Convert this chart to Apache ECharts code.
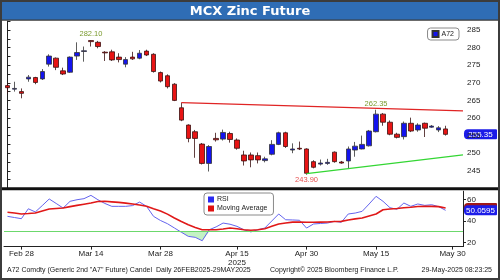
<!DOCTYPE html>
<html><head><meta charset="utf-8">
<script src="https://cdn.jsdelivr.net/npm/echarts@6/dist/echarts.min.js"></script>
<style>html,body{margin:0;padding:0;background:#fff}#c{width:500px;height:280px}</style>
</head><body><div id="c"></div>
<script>
// ---- data ----
const dates = ['2025-02-26','2025-02-27','2025-02-28',
'2025-03-03','2025-03-04','2025-03-05','2025-03-06','2025-03-07',
'2025-03-10','2025-03-11','2025-03-12','2025-03-13','2025-03-14',
'2025-03-17','2025-03-18','2025-03-19','2025-03-20','2025-03-21',
'2025-03-24','2025-03-25','2025-03-26','2025-03-27','2025-03-28',
'2025-04-01','2025-04-02','2025-04-03','2025-04-04',
'2025-04-07','2025-04-08','2025-04-09','2025-04-10','2025-04-11',
'2025-04-14','2025-04-15','2025-04-16','2025-04-17',
'2025-04-21','2025-04-22','2025-04-23','2025-04-24','2025-04-25',
'2025-04-28','2025-04-29','2025-04-30',
'2025-05-02',
'2025-05-05','2025-05-06','2025-05-07','2025-05-08','2025-05-09',
'2025-05-12','2025-05-13','2025-05-14','2025-05-15','2025-05-16',
'2025-05-19','2025-05-20','2025-05-21','2025-05-22','2025-05-23',
'2025-05-26','2025-05-27','2025-05-28','2025-05-29'];
const extraDates = ['2025-05-30','2025-06-02'];

const opens = [269.2,268.2,267.5,271.1,271.5,271.1,275.3,277.0,273.4,273.0,
277.6,278.9,282.0,281.5,278.7,278.8,277.3,275.3,277.3,277.0,
279.0,278.1,272.9,272.0,269.6,262.9,258.0,256.1,252.6,247.1,
254.2,254.0,255.6,253.75,249.5,249.5,249.3,247.9,249.7,252.5,
255.8,250.9,251.4,251.2,247.6,246.9,247.1,250.3,247.5,247.8,
250.9,251.2,252.1,256.1,261.1,258.8,255.4,254.7,258.5,256.6,
258.5,257.4,256.6,256.9];
const closes = [268.6,268.4,267.0,271.6,270.1,273.2,277.6,274.4,272.5,277.3,
278.6,279.1,281.7,280.3,278.5,276.5,276.6,276.6,276.8,278.4,
277.9,273.2,270.5,268.9,265.0,259.4,254.2,254.2,247.1,251.9,
253.8,255.9,253.9,251.4,247.8,248.1,248.1,248.4,252.5,255.8,
251.9,251.2,251.2,244.3,246.0,247.2,247.4,247.6,247.2,251.2,
252.0,252.5,256.3,261.1,258.8,255.4,254.5,258.5,256.3,258.0,
257.1,257.7,257.2,255.35];
const lows = [267.0,267.5,265.6,270.3,269.6,270.8,274.6,273.6,272.2,272.8,
276.5,276.0,280.3,279.8,276.2,276.2,275.8,274.4,276.5,276.7,
277.6,272.9,270.1,268.4,264.8,259.1,253.1,248.7,246.8,244.8,
253.3,253.6,253.0,251.0,246.5,246.0,247.1,247.4,249.4,252.3,
251.5,250.0,250.9,243.9,245.7,246.5,246.7,247.3,247.0,245.5,
249.0,251.1,251.9,255.9,257.8,255.1,254.2,253.9,256.0,256.1,
254.6,257.2,256.0,255.0];
const highs = [269.9,270.3,268.4,272.2,271.7,273.9,278.1,277.2,274.3,277.5,
281.5,280.3,282.1,281.9,279.0,279.4,278.4,277.3,278.8,279.3,
279.4,278.4,273.2,272.4,269.9,264.35,258.2,256.6,252.9,252.3,
255.8,256.7,256.1,254.2,250.7,250.2,250.2,249.0,253.7,256.1,
256.1,252.8,253.3,251.4,248.0,248.2,248.4,250.5,247.8,251.9,
253.2,255.0,256.6,262.35,261.4,259.3,255.8,259.0,260.1,258.5,
258.7,258.0,257.7,257.8];

const rsi = [44.4,43.3,42.2,51.5,48.5,54.5,60.7,56.5,52.2,58.5,
60.0,61.0,64.1,60.0,56.5,53.8,53.8,53.8,54.5,57.8,
53.8,44.4,40.5,37.5,33.5,29.5,25.6,24.7,21.5,31.8,
34.5,38.1,37.0,35.0,31.8,29.8,31.8,33.4,40.0,46.6,
41.2,41.0,40.7,33.4,37.2,37.7,38.1,39.7,38.8,46.6,
47.5,49.1,56.0,63.2,58.5,52.5,51.0,56.9,53.8,56.0,
54.7,55.3,53.5,50.0595];
const rsiMA = [48.2,47.5,46.6,47.0,47.5,49.5,51.3,51.8,52.2,53.5,
54.7,55.8,56.9,58.3,58.5,58.0,57.5,56.8,56.0,55.0,
53.8,51.5,49.5,46.5,42.8,39.5,36.5,34.0,31.8,31.8,
31.8,32.5,33.4,32.8,31.8,31.3,31.8,32.8,35.0,37.2,
38.2,39.0,39.1,38.8,38.8,39.0,39.1,39.5,39.7,41.0,
42.0,42.8,44.8,46.6,50.6,51.3,51.8,52.5,53.0,53.6,
53.8,53.8,53.5,52.2];
const oversold = 30;

// trend lines: [category position, price]
const resistanceLine = [[25, 264.35], [65.5, 262.0]];
const supportLine = [[43, 244.2], [65.5, 249.5]];

// annotated extremes: candle index and which extreme
const annotations = [{i:12, kind:'high'}, {i:43, kind:'low'}, {i:53, kind:'high'}];

const xTickDates = ['2025-02-28','2025-03-14','2025-03-28','2025-04-15','2025-04-30','2025-05-15','2025-05-30'];
const xTickLabels = ['Feb 28','Mar 14','Mar 28','Apr 15\n2025','Apr 30','May 15','May 30'];
const priceTicks = [245,250,255,260,265,270,275,280,285];
const rsiTicks = [20,40,60];

// ---- chart ----
const chart = echarts.init(document.getElementById('c'), null, {renderer:'canvas'});
const cats = dates.concat(extraDates);
const ohlc = dates.map((d,i)=>[opens[i], closes[i], lows[i], highs[i]]);
const isTick = (idx, val) => xTickDates.indexOf(val) >= 0;
const FONT = 'Liberation Sans';
const L = 4, R = 37;

const markData = annotations.map(a => {
  const v = a.kind === 'high' ? highs[a.i] : lows[a.i];
  return {
    coord: [cats[a.i], v], value: v.toFixed(2),
    label: {position: a.kind === 'high' ? 'top' : 'bottom', distance: a.kind==='high'?2:1.5,
            color: a.kind === 'high' ? '#7a9a2e' : '#e65050'}
  };
});

const baseGraphics = [
  {id:'titlebg', type:'rect', shape:{x:0,y:0,width:500,height:20}, style:{fill:'#2f6db5'}, z:-1},
  {id:'titleline', type:'rect', shape:{x:0,y:19.5,width:500,height:1.2}, style:{fill:'#3a3a3a'}},
  {id:'title', type:'text', style:{text:'MCX Zinc Future', x:250, y:11.5, align:'center', verticalAlign:'middle',
     font:'bold 13px "DejaVu Sans"', fill:'#ffffff'}},
  {id:'sep', type:'rect', shape:{x:0,y:187.3,width:500,height:3}, style:{fill:'#111'}, z:10},
  {id:'foot1', type:'text', style:{text:'A72 Comdty (Generic 2nd "A7" Future) Candel  Daily 26FEB2025-29MAY2025', x:7, y:270.5,
     verticalAlign:'middle', font:'7px "'+FONT+'"', fill:'#222'}},
  {id:'foot2', type:'text', style:{text:'Copyright\u00A9 2025 Bloomberg Finance L.P.', x:270, y:270.5,
     verticalAlign:'middle', font:'7px "'+FONT+'"', fill:'#222'}},
  {id:'foot3', type:'text', style:{text:'29-May-2025 08:23:25', x:492, y:270.5, align:'right',
     verticalAlign:'middle', font:'7px "'+FONT+'"', fill:'#222'}},
  {id:'border', type:'rect', shape:{x:1,y:1,width:498,height:278}, style:{fill:null, stroke:'#3c3c3c', lineWidth:2}, z:20}
];

const option = {
  animation: false,
  backgroundColor: '#fff',
  textStyle: {fontFamily: FONT},
  grid: [
    {left:L, right:R, top:21.2, height:167.2},
    {left:L, right:R, top:191.2, height:55.4}
  ],
  legend: [
    {data:['A72'], right:41, top:28, orient:'vertical', icon:'rect', itemWidth:6, itemHeight:6,
     backgroundColor:'#fff', borderColor:'#8a8a8a', borderWidth:1, borderRadius:3, padding:[2,5,2,4],
     textStyle:{fontSize:7, color:'#222', padding:[0,0,0,-2]}},
    {data:['RSI','Moving Average'], left:204, top:193, orient:'vertical', icon:'rect', itemWidth:6, itemHeight:6, itemGap:2,
     backgroundColor:'#fff', borderColor:'#8a8a8a', borderWidth:1, borderRadius:3, padding:[3,6,3,4],
     textStyle:{fontSize:7, color:'#222', padding:[0,0,0,-2]}}
  ],
  xAxis: [
    {type:'category', gridIndex:0, data:cats, boundaryGap:true, axisLine:{show:false}, axisTick:{show:false}, axisLabel:{show:false}, splitLine:{show:false}},
    {type:'category', gridIndex:1, data:cats, boundaryGap:true,
     axisLine:{show:true, lineStyle:{color:'#222', width:1}},
     axisTick:{show:true, interval:isTick, length:3, alignWithLabel:true, lineStyle:{color:'#222'}},
     axisLabel:{show:true, interval:isTick, formatter:(v)=>xTickLabels[xTickDates.indexOf(v)] || '',
       fontSize:8, lineHeight:8.5, margin:3, color:'#222', fontFamily:FONT},
     splitLine:{show:false}},
    {type:'value', gridIndex:0, min:-0.5, max:cats.length-0.5, show:false}
  ],
  yAxis: [
    {type:'value', gridIndex:0, position:'right', min:240, max:287.5, scale:true,
     axisLine:{show:true, lineStyle:{color:'#222'}},
     axisTick:{show:true, length:3, customValues: priceTicks.flatMap(v=>[v-2.5, v]).concat([287.5]), lineStyle:{color:'#222'}},
     axisLabel:{show:true, customValues: priceTicks, fontSize:8, margin:4, color:'#222', fontFamily:FONT},
     splitLine:{show:false}},
    {type:'value', gridIndex:1, position:'right', min:16, max:68,
     axisLine:{show:true, lineStyle:{color:'#222'}},
     axisTick:{show:true, length:3, customValues: rsiTicks, lineStyle:{color:'#222'}},
     axisLabel:{show:true, customValues: rsiTicks, fontSize:8, margin:4, color:'#222', fontFamily:FONT},
     splitLine:{show:false}}
  ],
  series: [
    {name:'A72', type:'candlestick', xAxisIndex:0, yAxisIndex:0, data:ohlc, barWidth:5,
     itemStyle:{color:'#1414ee', color0:'#e81414', borderColor:'#333', borderColor0:'#3a1010', borderWidth:0.8},
     markPoint:{symbol:'circle', symbolSize:0, silent:true, data:markData,
       label:{show:true, formatter:(p)=>p.value, fontSize:7.5, fontFamily:FONT}}},
    {name:'res', type:'line', xAxisIndex:2, yAxisIndex:0, data:resistanceLine, symbol:'none', silent:true,
     lineStyle:{color:'#e02424', width:1.2}},
    {name:'sup', type:'line', xAxisIndex:2, yAxisIndex:0, data:supportLine, symbol:'none', silent:true,
     lineStyle:{color:'#34d634', width:1.2}},
    {name:'fillBase', type:'line', xAxisIndex:1, yAxisIndex:1, stack:'os', symbol:'none', silent:true,
     data: rsi.map(v=>Math.min(v, oversold)), lineStyle:{opacity:0}},
    {name:'fillTop', type:'line', xAxisIndex:1, yAxisIndex:1, stack:'os', symbol:'none', silent:true,
     data: rsi.map(v=>oversold - Math.min(v, oversold)), lineStyle:{opacity:0},
     areaStyle:{color:'#c4f2c4', opacity:1}},
    {name:'RSI', type:'line', xAxisIndex:1, yAxisIndex:1, data:rsi, symbol:'none', silent:true,
     color:'#2a2af0', lineStyle:{color:'#6464ee', width:1},
     markLine:{symbol:'none', silent:true, label:{show:false}, lineStyle:{color:'#6cd86c', width:1, type:'solid'},
       data:[{yAxis:oversold}]}},
    {name:'Moving Average', type:'line', xAxisIndex:1, yAxisIndex:1, data:rsiMA, symbol:'none', silent:true,
     color:'#e01010', lineStyle:{color:'#e01818', width:1.6}}
  ],
  graphic: baseGraphics
};
chart.setOption(option);

// value boxes on the right axis, placed through the axes' scales
const lastClose = closes[closes.length-1];
const lastRsi = rsi[rsi.length-1];
const lastMA = rsiMA[rsiMA.length-1];
const yClose = chart.convertToPixel({yAxisIndex:0}, lastClose);
const yRsi = chart.convertToPixel({yAxisIndex:1}, lastRsi);
const yMA = chart.convertToPixel({yAxisIndex:1}, lastMA);
const box = (id, y, txt, fill, z) => ({id:id, type:'group', z:z, children:[
  {type:'rect', shape:{x:464, y:y-5, width:33, height:10, r:[4,1,1,4]}, style:{fill:fill}},
  {type:'text', style:{text:txt, x:480.5, y:y+0.5, align:'center', verticalAlign:'middle', font:'8px "'+FONT+'"', fill:'#fff'}}
]});
chart.setOption({graphic: baseGraphics.concat([
  box('bClose', yClose, lastClose.toFixed(2), '#1c1ce8', 30),
  box('bMA', yMA, lastMA.toFixed(2), '#a01818', 30),
  box('bRsi', yRsi, lastRsi.toFixed(4), '#1c1ce8', 31)
])});
</script></body></html>
